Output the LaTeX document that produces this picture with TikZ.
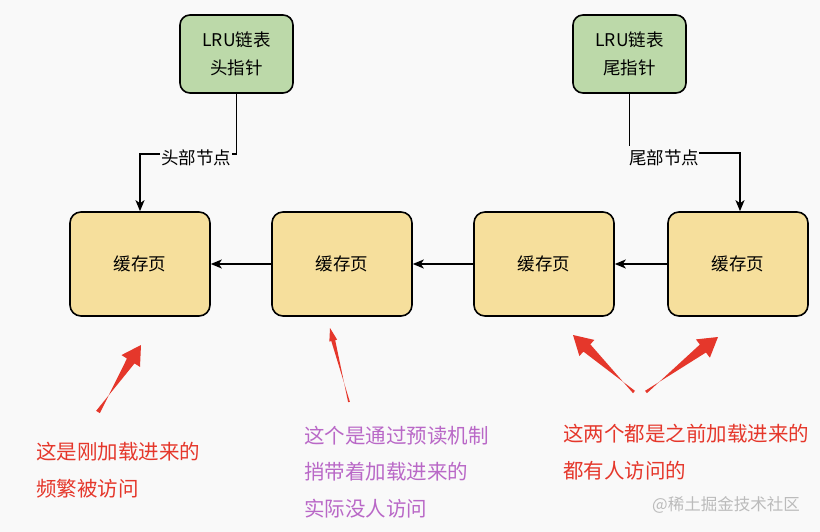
\documentclass[tikz,border=0pt]{standalone}
\usepackage{fontspec}
\setmainfont{Noto Sans CJK SC}
\usetikzlibrary{arrows.meta,calc}
\definecolor{bgc}{HTML}{F9F9F9}
\definecolor{greenc}{HTML}{BCD9A9}
\definecolor{yellowc}{HTML}{F6DF9C}
\definecolor{redc}{HTML}{E5372B}
\definecolor{purplec}{HTML}{B968C7}
\definecolor{grayc}{HTML}{BBBBBB}
\tikzset{
  ptrbox/.style={draw=black, line width=1.6pt, fill=greenc, rounded corners=10pt,
    minimum width=113pt, minimum height=78pt, inner sep=0pt, align=center,
    font=\fontsize{17.5}{28}\selectfont},
  pagebox/.style={draw=black, line width=1.6pt, fill=yellowc, rounded corners=11pt,
    minimum width=140pt, minimum height=104pt, inner sep=0pt,
    font=\fontsize{17.5}{22}\selectfont},
  conn/.style={draw=black, line width=1.6pt, -{Stealth[length=11pt,width=9pt,inset=3pt]}},
  plain/.style={draw=black, line width=1.6pt},
  lbl/.style={fill=bgc, inner sep=1pt, font=\fontsize{17.5}{20}\selectfont},
  note/.style={align=left, inner sep=0pt, anchor=west, font=\fontsize{20.5}{36.5}\selectfont},
}
\newcommand\fatarrow[6]{%
  \fill[redc] ($(#1)!#3!90:(#2)$)
    -- ($(#2)!#6!(#1)!#4!-90:(#2)$)
    -- ($(#2)!#6!(#1)!#5!-90:(#2)$)
    -- (#2)
    -- ($(#2)!#6!(#1)!#5!90:(#2)$)
    -- ($(#2)!#6!(#1)!#4!90:(#2)$)
    -- ($(#1)!#3!-90:(#2)$) -- cycle;}
\begin{document}
\begin{tikzpicture}[x=1pt,y=-1pt]
\fill[bgc] (0,0) rectangle (820,532);
\useasboundingbox (0,0) rectangle (820,532);

% pointer boxes
\node[ptrbox] (head) at (236.5,54) {LRU链表\\头指针};
\node[ptrbox] (tail) at (629.5,54) {LRU链表\\尾指针};

% cache pages
\node[pagebox] (c1) at (140,264) {缓存页};
\node[pagebox] (c2) at (342,264) {缓存页};
\node[pagebox] (c3) at (544,264) {缓存页};
\node[pagebox] (c4) at (738,264) {缓存页};

% links between pages
\draw[conn] (c2.west) -- (c1.east);
\draw[conn] (c3.west) -- (c2.east);
\draw[conn] (c4.west) -- (c3.east);

% head pointer
\draw[conn] (head.south) -- ++(0,60) -| (c1.north);
\node[lbl] (hl) at (196,158) {头部节点};

% tail pointer
\coordinate (tk) at (740,153);
\draw[plain] (tail.south) -- ++(0,52);
\node[lbl, inner sep=0pt] (tl) at (664,158) {尾部节点};
\draw[conn] (tl.east |- tk) -- (tk) -- (c4.north -| tk);

% red annotation arrows
\coordinate (a1s) at (98,412);  \coordinate (a1e) at (141,345);
\coordinate (a2s) at (349,402); \coordinate (a2e) at (330,328);
\coordinate (a3s) at (634,392); \coordinate (a3e) at (573,335);
\coordinate (a4s) at (646,392); \coordinate (a4e) at (718,337);
\fatarrow{a1s}{a1e}{2.2pt}{4.5pt}{11pt}{19pt}
\fatarrow{a2s}{a2e}{0.9pt}{2pt}{4pt}{13pt}
\fatarrow{a3s}{a3e}{1.5pt}{5pt}{11pt}{19pt}
\fatarrow{a4s}{a4e}{1.5pt}{5pt}{11.5pt}{19pt}

% notes
\node[note, text=redc] (n1) at (36,470) {这是刚加载进来的\\频繁被访问};
\node[note, text=purplec] (n2) at (304,472) {这个是通过预读机制\\捎带着加载进来的\\实际没人访问};
\node[note, text=redc] (n3) at (563,452) {这两个都是之前加载进来的\\都有人访问的};

% watermark
\node[text=grayc, inner sep=0pt, font=\fontsize{16.5}{18}\selectfont] (wm) at (726,505) {@稀土掘金技术社区};
\end{tikzpicture}
\end{document}
